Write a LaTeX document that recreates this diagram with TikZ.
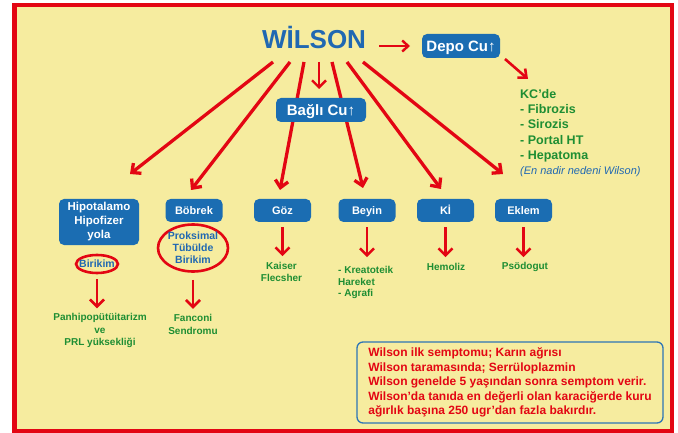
\documentclass[tikz,border=0pt]{standalone}
\usepackage{fontspec}
\setmainfont{Liberation Sans}
\usetikzlibrary{arrows.meta,shapes.geometric}
\definecolor{bg}{HTML}{F6EC9F}
\definecolor{fr}{HTML}{E30613}
\definecolor{bx}{HTML}{1B6DB2}
\definecolor{gr}{HTML}{1E8E33}
\definecolor{bt}{HTML}{2068B2}
\definecolor{nb}{HTML}{2E75B6}
\begin{document}
\begin{tikzpicture}[x=1pt,y=-1pt,
  bluebox/.style={fill=bx, rounded corners=5pt, text=white, align=center, inner sep=0pt,
    font=\bfseries\fontsize{11}{14}\selectfont, minimum width=57pt, minimum height=23pt,
    text height=8pt, text depth=0pt},
  bigbox/.style={bluebox, font=\bfseries\fontsize{15}{18}\selectfont, text height=10.7pt},
  fan/.style={draw=fr, line width=3.3pt, -{Straight Barb[length=7pt,width=13pt]}},
  varrow/.style={draw=fr, line width=2.6pt, -{Straight Barb[length=7pt,width=14pt]}},
  greentxt/.style={text=gr, font=\bfseries\fontsize{10}{12.5}\selectfont, align=center, inner sep=0pt},
  redring/.style={draw=fr, line width=2.6pt, ellipse, inner sep=0pt},
  bluetxt/.style={text=bt, font=\bfseries\fontsize{10.5}{12}\selectfont, align=center, inner sep=0pt}
]
\useasboundingbox (0,0) rectangle (678,433);
\fill[white] (0,0) rectangle (678,433);
\draw[fr, line width=4.5pt, fill=bg] (14.25,5.25) rectangle (671.75,430.75);

% title
\node[anchor=base, text=bt, font=\bfseries\fontsize{26}{30}\selectfont, inner sep=0pt] (wilson) at (314,49) {WİLSON};

% coordinates of fan
\coordinate (w1) at (273,62);
\coordinate (w2) at (290,62);
\coordinate (w3) at (304,62);
\coordinate (w4) at (332,62);
\coordinate (w5) at (347,62);
\coordinate (w6) at (363,62);
\coordinate (e1) at (130,174);
\coordinate (e2) at (191,190);
\coordinate (e3) at (280,190);
\coordinate (e4) at (363,188);
\coordinate (e5) at (441,189);
\coordinate (e6) at (503,174);
\foreach \i in {1,...,6} {\draw[fan] (w\i) -- (e\i);}

\coordinate (ws) at (319,62);
\coordinate (bs) at (319,89);
\draw[varrow, line width=2.4pt] (ws) -- (bs);

\node[bigbox, minimum width=90pt, minimum height=24pt] (bagli) at (321,110) {Bağlı Cu↑};
\node[bigbox, minimum width=78pt, minimum height=24pt] (depo) at (461,46) {Depo Cu↑};

\coordinate (wr1) at (379,46);
\coordinate (wr2) at (410,46);
\draw[varrow, line width=2.4pt, -{Straight Barb[length=6pt,width=11pt]}] (wr1) -- (wr2);

\coordinate (dk1) at (505,59);
\coordinate (dk2) at (528,79);
\draw[varrow, line width=2.6pt, -{Straight Barb[length=7pt,width=12pt]}] (dk1) -- (dk2);

\node[anchor=west, text=gr, font=\bfseries\fontsize{12.5}{15.3}\selectfont, align=left, inner sep=0pt] (kc) at (520,125.5)
  {KC’de\\- Fibrozis\\- Sirozis\\- Portal HT\\- Hepatoma};
\node[anchor=west, text=bt, font=\itshape\fontsize{11}{13}\selectfont, inner sep=0pt] (nadir) at (520,172) {(En nadir nedeni Wilson)};

% organ boxes
\node[bluebox, minimum width=80pt, minimum height=46pt, text height=, text depth=, font=\bfseries\fontsize{11.5}{14}\selectfont] (hip) at (99,222) {Hipotalamo\\Hipofizer\\yola};
\node[bluebox] (bob) at (194,210.5) {Böbrek};
\node[bluebox] (goz) at (282.5,210.5) {Göz};
\node[bluebox] (bey) at (367,210.5) {Beyin};
\node[bluebox] (ki) at (445.5,210.5) {Kİ};
\node[bluebox] (ekl) at (523.5,210.5) {Eklem};

% Hipotalamo branch
\node[redring, minimum width=42pt, minimum height=18pt] (bir1) at (97,264) {};
\node[bluetxt] at (bir1) {Birikim};
\node[greentxt] (panh) at (100,330.5) {Panhipopütüitarizm\\ve\\PRL yüksekliği};
\draw[varrow] (bir1.south) ++(0,5) -- ++(0,29);

% Böbrek branch
\node[redring, minimum width=70pt, minimum height=47pt] (bir2) at (193,248) {};
\node[bluetxt] at (bir2) {Proksimal\\Tübülde\\Birikim};
\node[greentxt, font=\bfseries\fontsize{10}{13}\selectfont] (fan2) at (193,324.5) {Fanconi\\Sendromu};
\draw[varrow] (bir2.south) ++(0,7) -- ++(0,29);

% Göz
\draw[varrow] (goz.south) ++(0,5) -- ++(0,29);
\node[greentxt, font=\bfseries\fontsize{10}{12}\selectfont] (kai) at (281.5,272) {Kaiser\\Flecsher};

% Beyin
\draw[varrow] (bey.south) ++(0,5) -- ++(0,30);
\node[greentxt, align=left, anchor=west, font=\bfseries\fontsize{10}{11.7}\selectfont] (kre) at (338,282.5) {- Kreatoteik\\Hareket\\- Agrafi};

% Ki
\draw[varrow] (ki.south) ++(0,5) -- ++(0,30);
\node[greentxt] (hem) at (446,267) {Hemoliz};

% Eklem
\draw[varrow] (ekl.south) ++(0,5) -- ++(0,30);
\node[greentxt] (pso) at (525,267) {Psödogut};

% note
\node[draw=nb, line width=1.3pt, rounded corners=6pt, fill=bg, text=fr, align=left,
  font=\bfseries\fontsize{12}{14.6}\selectfont, minimum width=306pt, minimum height=81pt, inner sep=0pt] (note) at (510,382.5)
  {Wilson ilk semptomu; Karın ağrısı\\
   Wilson taramasında; Serrüloplazmin\\
   Wilson genelde 5 yaşından sonra semptom verir.\\
   Wilson’da tanıda en değerli olan karaciğerde kuru\\
   ağırlık başına 250 ugr’dan fazla bakırdır.};
\end{tikzpicture}
\end{document}
